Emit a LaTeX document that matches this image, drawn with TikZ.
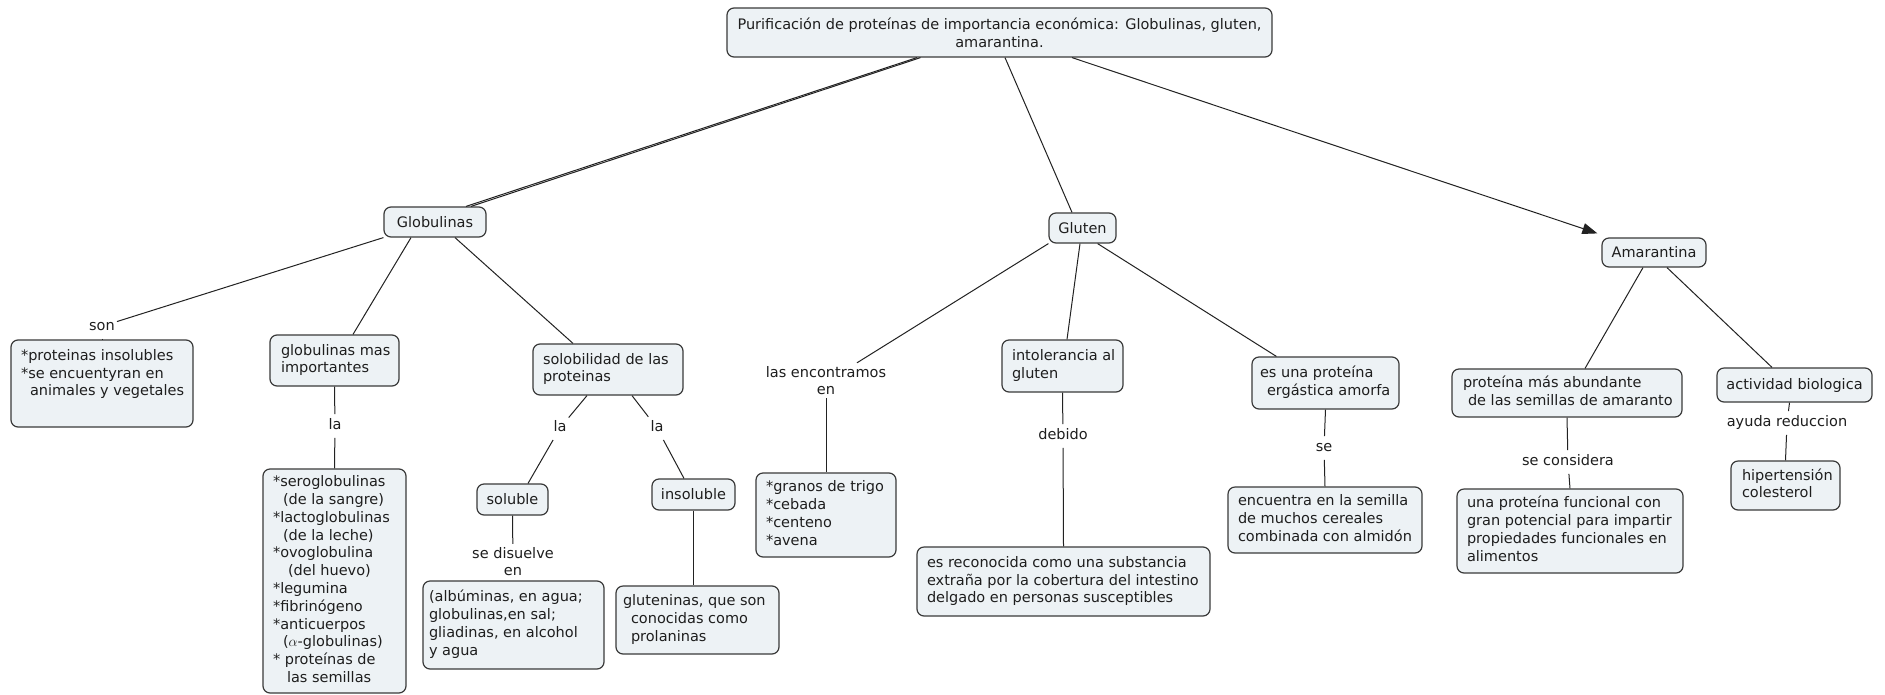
\documentclass[tikz,border=0pt]{standalone}
\usepackage{fontspec}
\setmainfont{DejaVu Sans}
\usetikzlibrary{arrows.meta}
\definecolor{boxfill}{HTML}{EDF2F5}
\definecolor{boxline}{HTML}{3A3A3A}
\definecolor{txtcol}{HTML}{1E1E1E}
\definecolor{linkcol}{HTML}{222222}
\newcommand{\mlines}[2]{\makebox[#1][l]{\begin{tabular}{@{}l@{}}#2\end{tabular}}}
\begin{document}
\begin{tikzpicture}[x=1pt,y=-1pt,
  font=\fontsize{14.5}{17.8}\selectfont,
  cbox/.style={draw=boxline, fill=boxfill, line width=1.2pt, rounded corners=7pt, inner ysep=0pt, text=txtcol},
  lbl/.style={inner xsep=2pt, inner ysep=5pt, text height=10.5pt, text depth=3pt, text=txtcol},
  lbltwo/.style={inner xsep=2pt, inner ysep=3pt, text=txtcol, align=center},
  link/.style={draw=linkcol, line width=1pt}]
\useasboundingbox (0,0) rectangle (1885,694);
\fill[white] (0,0) rectangle (1885,694);

% concepts
\node[cbox, minimum width=545pt, minimum height=49pt, align=center] (root) at (999.5,32.5)
  {Purificación de proteínas de importancia económica: Globulinas, gluten,\\amarantina.};
\node[cbox, minimum width=102pt, minimum height=30pt] (glob) at (435,222) {Globulinas};
\node[cbox, minimum width=67pt, minimum height=30pt] (glut) at (1082.5,228) {Gluten};
\node[cbox, minimum width=104pt, minimum height=29pt] (amar) at (1654,252.5) {Amarantina};

\node[cbox, minimum width=182pt, minimum height=87pt, inner xsep=10pt] (b1) at (102,383.5)
  {\mlines{162pt}{*proteinas insolubles\\\relax *se encuentyran en\\\hspace{9pt}animales y vegetales\\ \mbox{}}};
\node[cbox, minimum width=129pt, minimum height=51pt, inner xsep=11pt] (gm) at (334.5,360.5)
  {\mlines{107pt}{globulinas mas\\importantes}};
\node[cbox, minimum width=143pt, minimum height=224pt, inner xsep=10pt] (list) at (334.5,581)
  {\mlines{123pt}{*seroglobulinas\\\hspace{10pt}(de la sangre)\\\relax *lactoglobulinas\\\hspace{10pt}(de la leche)\\\relax *ovoglobulina\\\hspace{15pt}(del huevo)\\\relax *legumina\\\relax *fibrinógeno\\\relax *anticuerpos\\\hspace{10pt}($\alpha$-globulinas)\\\relax * proteínas de\\\hspace{14pt}las semillas}};
\node[cbox, minimum width=150pt, minimum height=51pt, inner xsep=10pt] (sol) at (608,369.5)
  {\mlines{130pt}{solobilidad de las\\proteinas}};
\node[cbox, minimum width=71pt, minimum height=31pt] (solu) at (512.5,499.5) {soluble};
\node[cbox, minimum width=83pt, minimum height=31pt] (insol) at (693.5,494.5) {insoluble};
\node[cbox, minimum width=181pt, minimum height=88pt, inner xsep=6pt] (alb) at (513.5,625)
  {\mlines{169pt}{(albúminas, en agua;\\globulinas,en sal;\\gliadinas, en alcohol\\y agua}};
\node[cbox, minimum width=163pt, minimum height=68pt, inner xsep=7pt] (glt) at (697.5,620)
  {\mlines{149pt}{gluteninas, que son\\\hspace{8pt}conocidas como\\\hspace{8pt}prolaninas}};
\node[cbox, minimum width=140pt, minimum height=84pt, inner xsep=10pt] (gran) at (826,515)
  {\mlines{120pt}{*granos de trigo\\\relax *cebada\\\relax *centeno\\\relax *avena}};
\node[cbox, minimum width=121pt, minimum height=52pt, inner xsep=10pt] (intol) at (1062.5,366)
  {\mlines{101pt}{intolerancia al\\gluten}};
\node[cbox, minimum width=293pt, minimum height=69pt, inner xsep=10pt] (reco) at (1063.5,581.5)
  {\mlines{273pt}{es reconocida como una substancia\\extraña por la cobertura del intestino\\delgado en personas susceptibles}};
\node[cbox, minimum width=147pt, minimum height=52pt, inner xsep=8pt] (erg) at (1325.5,383)
  {\mlines{131pt}{es una proteína\\\hspace{7pt}ergástica amorfa}};
\node[cbox, minimum width=194pt, minimum height=66pt, inner xsep=10pt] (enc) at (1325,520)
  {\mlines{174pt}{encuentra en la semilla\\de muchos cereales\\combinada con almidón}};
\node[cbox, minimum width=230pt, minimum height=48pt, inner xsep=11pt] (pma) at (1567,393)
  {\mlines{208pt}{proteína más abundante\\\hspace{5pt}de las semillas de amaranto}};
\node[cbox, minimum width=226pt, minimum height=84pt, inner xsep=10pt] (upf) at (1570,531)
  {\mlines{206pt}{una proteína funcional con\\gran potencial para impartir\\propiedades funcionales en\\alimentos}};
\node[cbox, minimum width=155pt, minimum height=34pt] (act) at (1794.5,385) {actividad biologica};
\node[cbox, minimum width=109pt, minimum height=49pt, inner xsep=11pt] (hip) at (1785.5,485.5)
  {\mlines{87pt}{hipertensión\\colesterol}};

% linking phrases
\node[lbl] (son) at (102,327) {son};
\node[lbl] (la1) at (335,426) {la};
\node[lbl] (la2) at (560,428) {la};
\node[lbl] (la3) at (657,428) {la};
\node[lbltwo] (sedis) at (513,561.5) {se disuelve\\en};
\node[lbltwo] (lasenc) at (826,380.5) {las encontramos\\en};
\node[lbl] (debido) at (1063,436) {debido};
\node[lbl] (se) at (1324,448) {se};
\node[lbl] (secons) at (1568,462) {se considera};
\node[lbl] (ayuda) at (1787,423) {ayuda reduccion};

% connectors
\draw[link] ([xshift=-82.5pt]root.south) -- ([xshift=31pt]glob.north);
\draw[link] ([xshift=-79pt]root.south) -- ([xshift=36pt]glob.north);
\draw[link] ([xshift=5.5pt]root.south) -- ([xshift=-10.5pt]glut.north);
\draw[link, -{Triangle[length=15pt,width=11pt]}] ([xshift=72.5pt]root.south) -- ([xshift=-4pt,yshift=4pt]amar.north west);

\draw[link] (glob.south west) -- (son.20);
\draw[link] (son.south) -- (b1.north);
\draw[link] ([xshift=-24pt]glob.south) -- ([xshift=18.5pt]gm.north);
\draw[link] (gm.south) -- (la1);
\draw[link] (la1) -- (list.north);
\draw[link] ([xshift=20pt]glob.south) -- ([xshift=-35pt]sol.north);
\draw[link] ([xshift=-21pt]sol.south) -- (la2);
\draw[link] (la2) -- ([xshift=15.5pt]solu.north);
\draw[link] ([xshift=24pt]sol.south) -- (la3);
\draw[link] (la3) -- ([xshift=-9.5pt]insol.north);
\draw[link] (solu.south) -- (sedis);
\draw[link] (insol.south) -- (insol.south |- glt.north);

\draw[link] (glut.south west) -- ([xshift=31pt]lasenc.north);
\draw[link] (lasenc) -- (gran.north);
\draw[link] ([xshift=-2.5pt]glut.south) -- ([xshift=4.5pt]intol.north);
\draw[link] (intol.south) -- (debido);
\draw[link] (debido) -- (reco.north);
\draw[link] ([xshift=-19pt]glut.south east) -- ([xshift=25pt]erg.north west);
\draw[link] (erg.south) -- (se);
\draw[link] (se) -- (enc.north);

\draw[link] ([xshift=-11pt]amar.south) -- ([xshift=18pt]pma.north);
\draw[link] ([xshift=13pt]amar.south) -- ([xshift=-22.5pt]act.north);
\draw[link] (pma.south) -- (secons);
\draw[link] (secons) -- (upf.north);
\draw[link] ([xshift=-5pt]act.south) -- (ayuda);
\draw[link] (ayuda) -- (hip.north);
\end{tikzpicture}
\end{document}
